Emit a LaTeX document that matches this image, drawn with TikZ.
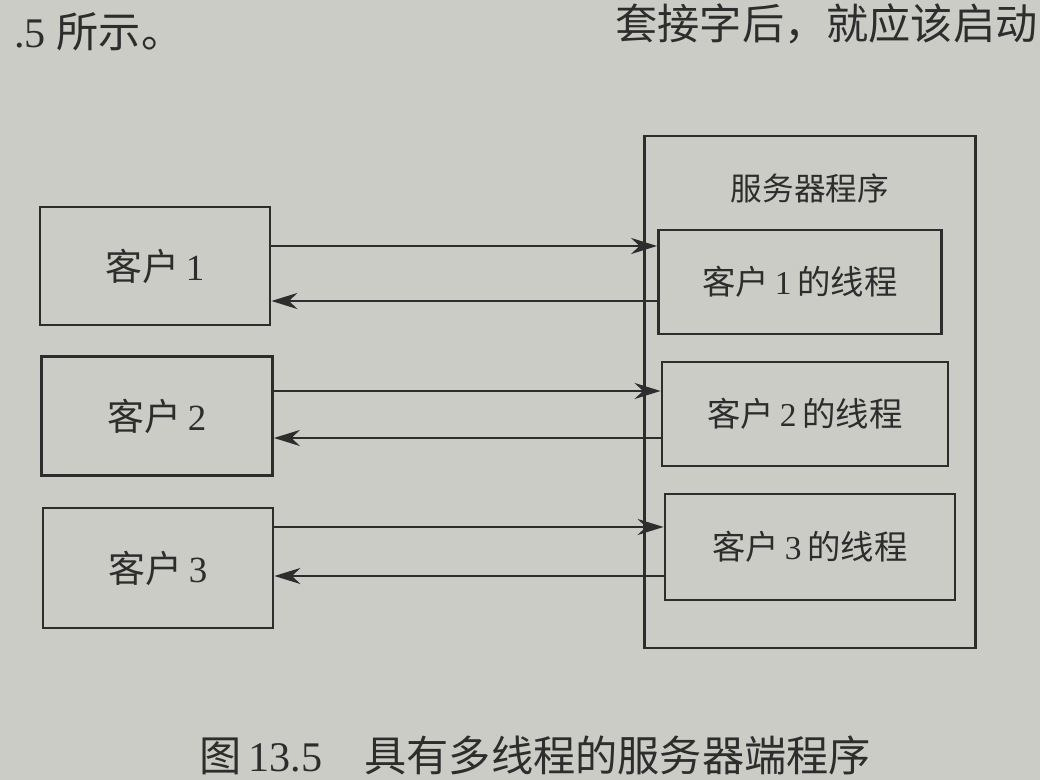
\documentclass[tikz,border=0pt]{standalone}
\usepackage{fontspec}
\setmainfont{Liberation Serif}
\newfontfamily\cjk{Noto Sans CJK SC}
\usetikzlibrary{arrows.meta}
\definecolor{paper}{RGB}{204,204,198}
\definecolor{ink}{RGB}{45,45,45}
\begin{document}
\begin{tikzpicture}[x=0.01cm,y=-0.01cm,
  box/.style={draw=ink,line width=0.75pt,fill=none,inner sep=0pt},
  lbl/.style={text=ink,font=\fontsize{9.5}{11}\selectfont},
  clbl/.style={text=ink,font=\fontsize{10.5}{12}\selectfont},
  arr/.style={draw=ink,line width=0.8pt,-{Stealth[length=2.6mm,width=1.6mm]}}]
\useasboundingbox (0,0) rectangle (1040,780);
\fill[paper] (0,0) rectangle (1040,780);
\begin{scope}
\clip (0,0) rectangle (1040,780);
% top text fragments
\node[anchor=west,text=ink,font=\fontsize{12}{14}\selectfont] (tl) at (2,32) {.5 {\cjk 所示。}};
\node[anchor=east,text=ink,font=\fontsize{12}{14}\selectfont] (tr) at (1050,24) {{\cjk 套接字后，就应该启动}};
% clients
\node[box,minimum width=2.30cm,minimum height=1.18cm] (c1) at (155,266) {};
\node[clbl] at (c1) {{\cjk 客户}\,1};
\node[box,minimum width=2.31cm,minimum height=1.19cm] (c2) at (157,416) {};
\node[clbl] at (c2) {{\cjk 客户}\,2};
\node[box,minimum width=2.30cm,minimum height=1.20cm] (c3) at (158,568) {};
\node[clbl] at (c3) {{\cjk 客户}\,3};
% server
\node[box,minimum width=3.31cm,minimum height=5.12cm] (srv) at (810,392) {};
\node[lbl,font=\fontsize{9}{11}\selectfont] (srvl) at (810,188) {\cjk 服务器程序};
% threads
\node[box,minimum width=2.83cm,minimum height=1.04cm] (t1) at (800,282) {};
\node[lbl] at (t1) {{\cjk 客户}\,1\,{\cjk 的线程}};
\node[box,minimum width=2.86cm,minimum height=1.04cm] (t2) at (805,414) {};
\node[lbl] at (t2) {{\cjk 客户}\,2\,{\cjk 的线程}};
\node[box,minimum width=2.90cm,minimum height=1.06cm] (t3) at (810,547) {};
\node[lbl] at (t3) {{\cjk 客户}\,3\,{\cjk 的线程}};
% arrow rows
\coordinate (a1) at (0,246); \coordinate (b1) at (0,301);
\coordinate (a2) at (0,391); \coordinate (b2) at (0,438);
\coordinate (a3) at (0,527); \coordinate (b3) at (0,576);
\draw[arr] (c1.east |- a1) -- (t1.west |- a1);
\draw[arr] (t1.west |- b1) -- (c1.east |- b1);
\draw[arr] (c2.east |- a2) -- (t2.west |- a2);
\draw[arr] (t2.west |- b2) -- (c2.east |- b2);
\draw[arr] (c3.east |- a3) -- (t3.west |- a3);
\draw[arr] (t3.west |- b3) -- (c3.east |- b3);
% caption
\node[text=ink,font=\fontsize{12}{14}\selectfont] (cap) at (535,755) {{\cjk 图}\,13.5\quad{\cjk 具有多线程的服务器端程序}};
\end{scope}
\end{tikzpicture}
\end{document}
